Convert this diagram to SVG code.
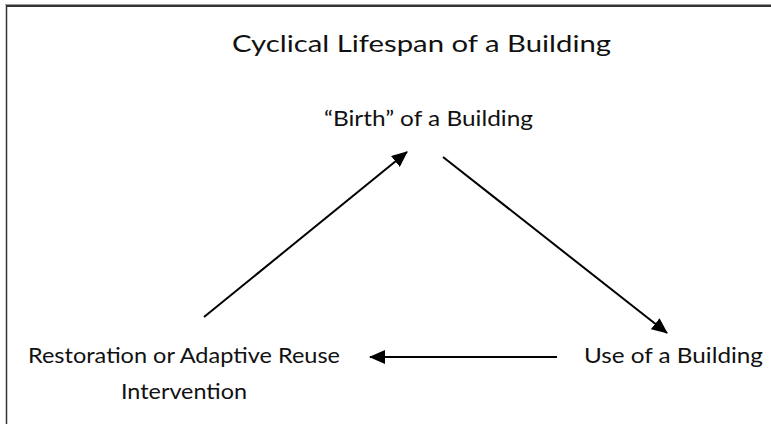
<svg xmlns="http://www.w3.org/2000/svg" width="771" height="424" viewBox="0 0 771 424">
<style>
.t{font-family:Lato,"Open Sans","Liberation Sans",sans-serif;fill:#111;font-size:21px}
.c line{stroke:#000;stroke-width:2}
</style>
<defs>
<marker id="ah" markerWidth="16" markerHeight="14" refX="15" refY="7" orient="auto" markerUnits="userSpaceOnUse">
<path d="M0,0 L16,7 L0,14 Z" fill="#000"/>
</marker>
</defs>
<rect width="771" height="424" fill="#fff"/>
<g id="frame">
<line x1="5" y1="4.5" x2="771" y2="4.5" stroke="#999" stroke-width="1"/>
<line x1="6" y1="6" x2="771" y2="6" stroke="#333" stroke-width="2"/>
<line x1="6.5" y1="5" x2="6.5" y2="424" stroke="#333" stroke-width="1.5"/>
</g>
<g id="title"><text class="t" x="232" y="52" style="font-size:24px" textLength="379" lengthAdjust="spacingAndGlyphs">Cyclical Lifespan of a Building</text></g>
<g id="birth"><text class="t" x="324" y="126" textLength="209" lengthAdjust="spacingAndGlyphs">“Birth” of a Building</text></g>
<g id="use"><text class="t" x="584" y="363" textLength="179" lengthAdjust="spacingAndGlyphs">Use of a Building</text></g>
<g id="restoration">
<text class="t" x="28" y="363" textLength="312" lengthAdjust="spacingAndGlyphs">Restoration or Adaptive Reuse</text>
<text class="t" x="121" y="399" textLength="126" lengthAdjust="spacingAndGlyphs">Intervention</text>
</g>
<g id="connectors" class="c">
<line x1="204" y1="317" x2="407" y2="152" marker-end="url(#ah)"/>
<line x1="443" y1="157" x2="667" y2="333" marker-end="url(#ah)"/>
<line x1="557" y1="357" x2="370" y2="357" marker-end="url(#ah)"/>
</g>
</svg>
